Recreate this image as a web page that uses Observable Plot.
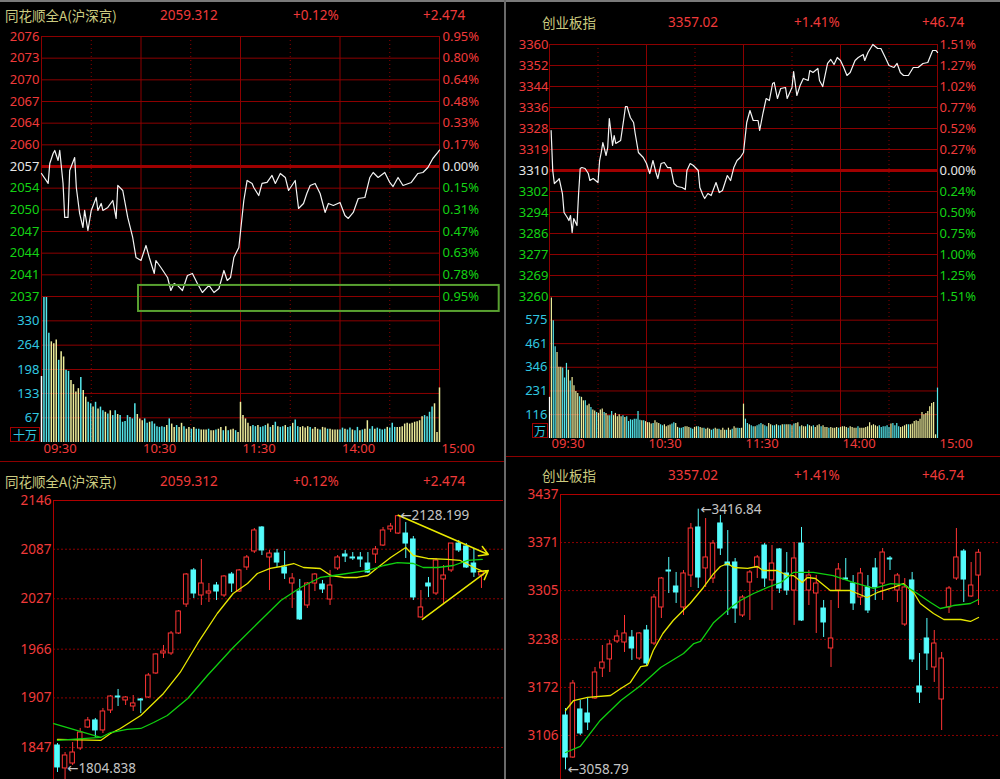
<!DOCTYPE html>
<html><head><meta charset="utf-8">
<script src="https://cdn.jsdelivr.net/npm/d3@7"></script>
<script src="https://cdn.jsdelivr.net/npm/@observablehq/plot@0.6"></script>
<style>
html,body{margin:0;padding:0;background:#000;}
#root{position:relative;width:1000px;height:779px;background:#000;overflow:hidden;font-family:"Noto Sans","DejaVu Sans",sans-serif;}
.h{position:absolute;height:18px;line-height:18px;font-size:13.5px;white-space:nowrap;transform:translateY(-50%);}
.nm{font-family:"Noto Sans CJK SC","Noto Sans",sans-serif;color:#cccc80;}
.rd{color:#f03a3a;}
.unit{position:absolute;border:1px solid #a00000;color:#30c8e0;font-family:"Noto Sans CJK SC",sans-serif;font-size:12px;line-height:13px;text-align:center;box-sizing:border-box;}
</style></head>
<body><div id="root"></div>
<script>
// ---------- header texts ----------
const headerNames = ["同花顺全A(沪深京)", "创业板指", "同花顺全A(沪深京)", "创业板指"];
const headerLast = ["2059.312", "3357.02", "2059.312", "3357.02"];
const headerPct = ["+0.12%", "+1.41%", "+0.12%", "+1.41%"];
const headerChg = ["+2.474", "+46.74", "+2.474", "+46.74"];

// ---------- intraday axes ----------
const timeTicks = [0, 60, 120, 180, 240];
const timeLabels = ["09:30", "10:30", "11:30", "14:00", "15:00"];
const timeDots = [30, 90, 150, 210];

const allAPrevClose = 2056.838, allAPctMax = 0.95;
const allAPriceLabels = ["2076","2073","2070","2067","2064","2060","2057","2054","2050","2047","2044","2041","2037"];
const allAPctLabels = ["0.95%","0.80%","0.64%","0.48%","0.33%","0.17%","0.00%","0.15%","0.31%","0.47%","0.63%","0.78%","0.95%"];
const allAVolTicks = [330, 264, 198, 133, 67];
const allAVolMax = 396;

const cybPrevClose = 3310.28, cybPctMax = 1.51;
const cybPriceLabels = ["3360","3352","3344","3336","3328","3319","3310","3302","3294","3286","3277","3269","3260"];
const cybPctLabels = ["1.51%","1.27%","1.02%","0.77%","0.52%","0.27%","0.00%","0.24%","0.50%","0.75%","1.00%","1.25%","1.51%"];
const cybVolTicks = [575, 461, 346, 231, 116];
const cybVolMax = 690;

// ---------- intraday price series ----------
const allAMin = [0,4,5,7,8,10,11,13,14,16,17,20,21,23,25,26,28,30,33,34,36,37,40,43,45,46,49,52,55,57,60,63,65,68,69,72,76,78,80,82,85,88,91,94,97,101,104,107,110,112,114,116,119,122,124,127,128,131,133,136,139,141,144,147,149,153,155,158,160,162,165,168,171,173,176,180,183,185,188,191,195,198,200,203,207,210,212,215,218,223,227,230,233,236,239,240];
const allAPrice = [2055.79,2054.29,2057.29,2058.79,2059.25,2057.74,2059.25,2054.29,2049.18,2049.18,2056.24,2058.19,2053.68,2049.78,2047.67,2050.23,2047.22,2050.23,2052.18,2050.23,2051.28,2050.23,2050.68,2051.73,2049.03,2053.99,2053.23,2049.18,2046.17,2043.16,2042.71,2044.97,2043.16,2040.76,2042.71,2041.66,2040.16,2038.2,2039.26,2038.96,2038.2,2040.46,2040.76,2039.26,2037.9,2038.96,2037.9,2038.5,2041.21,2039.71,2040.16,2043.16,2044.67,2051.73,2054.74,2054.29,2053.68,2052.48,2054.29,2054.44,2055.49,2054.29,2055.79,2055.19,2053.23,2054.74,2050.53,2051.28,2052.78,2053.99,2054.29,2052.78,2049.93,2051.28,2050.98,2051.43,2049.48,2049.03,2049.93,2052.03,2052.18,2055.19,2055.94,2055.19,2055.94,2054.44,2053.83,2055.19,2053.99,2054.44,2055.79,2055.94,2056.69,2058.04,2058.95,2059.31];

const cybMin = [1,2,3,5,6,8,9,11,12,13,14,15,17,18,19,20,22,24,25,27,30,31,32,33,35,36,37,39,40,41,44,46,47,48,50,52,53,55,58,59,60,61,62,64,66,67,69,71,73,75,77,79,82,84,85,87,89,92,93,95,96,98,100,103,105,107,110,112,114,116,118,120,122,124,126,129,130,132,134,136,138,139,141,143,146,147,150,151,153,155,157,160,161,163,166,167,169,172,174,176,178,180,182,184,186,189,191,194,195,197,200,203,205,208,210,213,215,217,219,222,225,228,231,234,237,239,240];
const cybPrice = [3326.15,3310.27,3305.11,3306.31,3307.1,3301.15,3293.61,3291.62,3290.43,3292.42,3285.67,3291.23,3288.45,3301.15,3311.07,3311.46,3311.07,3309.08,3306.31,3307.1,3305.51,3314.24,3317.42,3321.38,3316.23,3319.4,3330.91,3320.19,3324.16,3320.99,3322.18,3330.91,3335.67,3335.67,3331.3,3329.32,3324.95,3317.42,3315.43,3314.24,3313.05,3311.07,3309.08,3314.24,3309.08,3307.1,3313.05,3313.45,3311.46,3311.46,3305.11,3303.92,3303.53,3302.73,3310.27,3313.05,3312.26,3310.27,3303.53,3300.35,3299.16,3301.15,3300.35,3305.51,3301.54,3302.34,3308.29,3306.31,3311.46,3314.24,3315.43,3317.42,3329.32,3334.08,3330.11,3330.11,3326.15,3332.89,3338.84,3338.05,3344.79,3345.19,3338.84,3342.81,3343.21,3338.84,3343.21,3349.56,3340.03,3344.0,3346.78,3345.99,3349.95,3349.16,3350.75,3345.99,3343.6,3352.73,3354.32,3352.33,3355.11,3353.92,3351.14,3347.97,3349.16,3353.92,3355.11,3356.3,3353.92,3357.1,3360.27,3358.68,3358.68,3354.71,3351.94,3351.14,3352.73,3349.16,3347.97,3347.97,3351.14,3351.14,3352.73,3353.13,3357.89,3357.89,3357.1];

// ---------- intraday volumes (morning / afternoon) ----------
const allAVolAM = [179,394,394,296,273,268,278,223,246,232,196,193,168,157,137,146,176,141,123,109,105,96,109,91,96,86,82,77,86,73,86,76,73,55,57,73,68,64,105,76,64,59,64,52,55,56,50,43,41,43,41,46,64,50,41,46,41,52,43,36,41,36,41,36,36,34,34,34,36,32,32,34,36,41,32,43,32,34,36,32,27];
const allAVolAMDir = "w"+"ccc"+"yyy"+"c"+"yy"+"cc"+"yyyy"+"c"+"yy"+"cc"+"y"+"c"+"y"+"cc"+"y"+"c"+"y"+"cc"+"y"+"ccccccc"+"yyy"+"cc"+"y"+"cccccc"+"y"+"c"+"yy"+"c"+"yy"+"c"+"yy"+"c"+"y"+"cc"+"yyy"+"c"+"yy"+"c"+"yy"+"c"+"y"+"c"+"yy"+"c"+"y";
const allAVolPM = [109,73,64,52,43,46,43,46,41,43,46,50,41,46,55,43,41,43,46,41,43,52,61,43,41,43,39,43,41,36,41,36,34,41,39,36,36,34,34,34,34,39,36,34,39,34,32,41,32,34,36,59,36,43,36,39,36,34,36,41,39,52,41,41,41,43,50,52,50,52,55,56,59,70,73,70,82,96,105,27,148];
const allAVolPMDir = "yyyyy"+"ccycccyc"+"ycyccyccyccy"+"yyycyyycyycyyyyc"+"cyccyccycyyccy"+"ccccyccc"+"yyyyyyyyyyy"+"cccc"+"yyy";

const cybVolAM = [200,683,572,446,418,346,346,342,294,365,332,280,297,256,228,219,203,200,183,183,159,167,151,138,134,126,122,138,143,126,122,111,111,131,111,122,106,116,106,111,102,106,82,91,89,94,94,131,89,86,86,82,77,77,70,73,86,77,73,67,62,67,57,62,65,70,77,73,54,50,50,54,57,57,54,50,45,54,57,57,54,50,50,45,50,45,40,45,50,45,45,40,50,40,40,50,40,45,57,50,50,49,50];
const cybVolAMDir = "wyccyyyccc"+"ycyyyycyyc"+"yycyycyyyc"+"yyccyyyyyc"+"yccccccccy"+"cyyyycyyyc"+"cyyyyccyyc"+"ccyyyccyyc"+"yycyyyccyy"+"cyyycyycyy"+"ccy";
const cybVolPM = [167,94,73,67,62,57,57,62,67,73,67,62,57,73,67,62,62,67,62,62,67,67,67,67,67,62,70,73,77,57,62,57,57,67,62,57,62,54,62,67,57,62,54,54,50,54,50,50,54,50,54,57,57,54,50,57,54,50,50,57,50,50,50,54,57,77,62,67,62,57,62,54,57,57,62,54,70,73,62,73,57,54,57,62,67,67,67,70,82,86,82,94,126,116,122,131,154,170,175,18,245];
const cybVolPMDir = "yccyccyccc"+"yccyyccycc"+"ycyycycyyc"+"yyycyycyyy"+"cyyycyyyyc"+"yyyycyyyyc"+"yyyyyyyyyy"+"ccccccyccc"+"cyyyycyyyy"+"yyyyyyyyyy"+"c";

// ---------- daily candles: 同花顺全A ----------
const allAOpen = [1849.4,1821.6,1827.6,1845.8,1871.2,1879.7,1867.6,1891.8,1908.7,1903.9,1896.6,1905.1,1907.5,1936.6,1960.8,1960.8,1985.0,2020.1,2061.3,2031.0,2033.4,2043.1,2031.0,2056.4,2035.8,2064.9,2084.3,2113.3,2077.0,2081.8,2064.9,2045.5,2035.8,2018.9,2045.5,2044.3,2026.1,2063.7,2080.6,2077.0,2077.0,2069.7,2080.6,2091.5,2110.9,2106.0,2106.0,2098.8,2004.4,2045.5,2033.4,2050.4,2061.3,2093.9,2090.3,2069.7,2055.2];
const allAHigh = [1851.8,1840.9,1853.0,1870.0,1883.3,1882.1,1894.2,1909.9,1917.2,1908.7,1909.9,1906.3,1936.6,1960.8,1970.5,1987.4,2012.8,2057.6,2063.7,2074.6,2045.5,2046.7,2055.2,2058.8,2062.5,2079.4,2112.1,2114.5,2085.5,2086.7,2084.3,2057.6,2050.4,2046.7,2057.6,2049.2,2061.3,2079.4,2085.5,2083.0,2083.0,2083.0,2090.3,2113.3,2118.2,2128.199,2119.4,2102.4,2037.0,2052.8,2075.8,2067.3,2093.9,2097.6,2093.9,2087.9,2061.3];
const allALow = [1816.7,1804.838,1825.2,1843.3,1870.0,1859.1,1863.9,1888.1,1896.6,1897.8,1890.6,1888.1,1906.3,1935.4,1954.7,1958.4,1983.8,2016.5,2027.4,2018.9,2022.5,2024.9,2028.6,2034.6,2034.6,2061.3,2081.8,2079.4,2037.0,2064.9,2050.4,2015.3,2000.7,2015.3,2035.8,2033.4,2018.9,2061.3,2070.9,2073.4,2064.9,2057.6,2069.7,2090.3,2107.3,2104.8,2075.8,2024.9,2003.2,2028.6,2031.0,2021.3,2058.8,2083.0,2063.7,2052.8,2039.5];
const allAClose = [1822.8,1837.3,1840.9,1865.1,1879.7,1867.6,1890.6,1908.7,1907.5,1907.5,1900.3,1903.9,1934.1,1959.6,1963.2,1985.0,2011.6,2056.4,2033.4,2045.5,2035.8,2035.8,2054.0,2045.5,2061.3,2077.0,2109.7,2085.5,2081.8,2070.9,2057.6,2051.6,2002.0,2045.5,2056.4,2038.3,2043.1,2077.0,2078.2,2075.8,2074.6,2058.8,2086.7,2109.7,2114.5,2127.0,2093.9,2028.6,2016.5,2041.9,2073.4,2055.2,2093.9,2085.5,2064.9,2058.8,2059.3];
const allAMaYellow = [[0,1856.7],[5.7,1855.5],[7.0,1863.9],[8.3,1870.0],[11.0,1885.7],[14.0,1912.4],[16.2,1937.8],[18.5,1972.9],[21.1,2009.2],[23.2,2033.4],[25.1,2045.5],[26.4,2057.6],[28.1,2063.7],[29.5,2066.1],[31.2,2069.7],[32.5,2064.9],[34.7,2063.7],[36.1,2055.2],[37.8,2052.8],[39.6,2052.8],[41.0,2055.2],[42.3,2064.9],[44.0,2077.0],[46.0,2089.1],[47.0,2079.4],[48.9,2075.8],[51.5,2074.6],[53.2,2073.4],[55.0,2064.9],[55.9,2061.3]];
const allAMaGreen = [[0,1855.5],[5.7,1859.1],[7.0,1865.1],[9.2,1868.8],[11.0,1870.0],[12.7,1877.2],[14.5,1885.7],[17.2,1906.3],[19.8,1934.1],[23.2,1968.0],[26.4,1997.1],[29.5,2024.9],[32.1,2040.7],[34.7,2052.8],[36.5,2055.2],[41.0,2061.3],[43.1,2067.3],[44.9,2070.9],[47.0,2069.7],[48.3,2064.9],[50.2,2064.9],[52.3,2067.3],[54.2,2073.4],[56.1,2074.6]];
const allAArrows = [{x1:45, y1:2128.2, x2:56.9, y2:2080.6}, {x1:48.2, y1:2002.0, x2:56.9, y2:2061.3}];
const allAGreenNote = [[-0.5,1876.0],[5.7,1859.1]];
const allAHighMark = [{i:45, p:2128.199, t:"←2128.199"}];
const allALowMark = [{i:1, p:1804.838, t:"←1804.838"}];
const allAKTicks = [2146, 2087, 2027, 1966, 1907, 1847];

// ---------- daily candles: 创业板指 ----------
const cybOpen = [3133.4,3075.7,3141.7,3136.2,3156.8,3198.0,3210.4,3235.1,3233.7,3240.6,3211.7,3250.2,3232.3,3281.8,3332.6,3310.6,3281.8,3325.7,3391.7,3335.4,3321.6,3397.2,3343.6,3343.6,3270.8,3316.1,3336.7,3366.9,3318.9,3361.5,3328.5,3305.1,3369.7,3305.1,3301.0,3280.4,3225.5,3305.1,3321.6,3314.7,3295.5,3309.3,3335.4,3314.7,3349.1,3305.1,3258.4,3318.9,3173.3,3239.2,3199.4,3155.4,3281.8,3321.6,3358.7,3296.9,3325.7];
const cybHigh = [3143.0,3181.5,3154.0,3158.2,3199.4,3229.6,3236.5,3250.2,3270.8,3250.2,3247.4,3257.1,3299.6,3323.0,3350.5,3329.9,3332.6,3397.2,3416.84,3404.0,3373.8,3408.2,3387.5,3349.1,3298.3,3332.6,3353.2,3369.7,3366.9,3362.8,3357.3,3371.1,3391.7,3332.6,3325.7,3291.4,3291.4,3342.2,3349.1,3325.7,3335.4,3325.7,3349.1,3362.8,3351.8,3328.5,3321.6,3329.9,3218.6,3266.7,3250.2,3220.0,3310.6,3390.3,3361.5,3343.6,3361.5];
const cybLow = [3058.79,3074.4,3106.0,3112.8,3155.4,3185.6,3192.5,3232.3,3220.0,3209.0,3209.0,3202.1,3229.6,3266.7,3301.0,3287.3,3270.8,3309.3,3307.9,3309.3,3314.7,3353.2,3270.8,3259.8,3268.0,3263.9,3321.6,3309.3,3277.7,3301.0,3298.3,3257.1,3262.6,3284.5,3246.1,3240.6,3199.4,3280.4,3318.9,3277.7,3284.5,3273.5,3291.4,3291.4,3332.6,3288.6,3255.7,3206.2,3149.9,3195.2,3178.8,3112.8,3273.5,3318.9,3288.6,3295.5,3284.5];
const cybClose = [3075.7,3177.4,3108.7,3123.8,3192.5,3206.2,3231.0,3242.0,3246.1,3225.5,3246.1,3204.9,3295.5,3321.6,3331.2,3302.4,3328.5,3390.3,3323.0,3350.5,3369.7,3362.8,3339.5,3280.4,3295.5,3329.9,3350.5,3321.6,3342.2,3307.9,3305.1,3349.1,3263.9,3325.7,3314.7,3261.2,3239.2,3334.0,3320.2,3287.3,3328.5,3277.7,3309.3,3357.3,3347.7,3325.7,3309.3,3210.4,3165.0,3218.6,3232.3,3211.7,3307.9,3350.5,3320.2,3312.0,3357.0];
const cybMaYellow = [[0,3140.3],[1.1,3154.0],[3.0,3158.2],[6.1,3160.9],[7.5,3170.5],[8.8,3178.8],[10.2,3200.7],[11.1,3202.1],[11.9,3222.7],[13.2,3246.1],[14.6,3263.9],[16.9,3287.3],[18.7,3309.3],[20.1,3328.5],[21.0,3338.1],[22.0,3342.2],[22.8,3336.7],[24.7,3335.4],[26.0,3338.1],[26.8,3332.6],[28.7,3332.6],[30.1,3325.7],[30.9,3325.7],[32.1,3316.1],[32.8,3323.0],[33.9,3321.6],[35.9,3305.1],[38.6,3305.1],[40.9,3295.5],[42.3,3302.4],[44.5,3309.3],[45.8,3314.7],[47.2,3302.4],[48.1,3287.3],[49.9,3273.5],[51.3,3265.3],[53.6,3265.3],[54.9,3262.6],[56.0,3268.0]];
const cybMaGreen = [[0,3082.6],[2.0,3090.9],[4.7,3126.6],[7.5,3154.0],[10.2,3174.6],[12.9,3199.4],[16.0,3218.6],[17.4,3232.3],[18.3,3235.1],[20.1,3261.2],[22.4,3281.8],[23.7,3291.4],[25.5,3301.0],[27.4,3309.3],[29.2,3316.1],[30.9,3329.9],[33.6,3329.9],[36.3,3325.7],[39.1,3316.1],[41.8,3307.9],[44.1,3314.7],[45.8,3313.4],[47.7,3301.0],[49.5,3288.6],[50.8,3280.4],[52.6,3284.5],[54.9,3287.3],[56.0,3292.8]];
const cybHighMark = [{i:18, p:3416.84, t:"←3416.84"}];
const cybLowMark = [{i:0, p:3058.79, t:"←3058.79"}];
const cybKTicks = [3437, 3371, 3305, 3238, 3172, 3106];

// ---------- styling ----------
const RED = "#f03a3a", GREEN = "#14d214", WHITE = "#e6e6e6", CYAN_T = "#30c8e0", GRID = "#8c0000";
const CRED = "#ff3434", CCYAN = "#54fcfc", YEL = "#e8e800", MAG = "#10d010";
const BAR = {w: "#ffffff", c: "#55e8ec", y: "#eeee9c"};
const STYLE = {background: "transparent", color: "#ddd", fontFamily: "'Noto Sans','DejaVu Sans',sans-serif", fontSize: "13px", overflow: "visible"};

const root = document.getElementById("root");
function place(el, left, top) { el.style.position = "absolute"; el.style.left = left + "px"; el.style.top = top + "px"; root.appendChild(el); return el; }
function box(left, top, w, h, bg) { const d = document.createElement("div"); d.style.width = w + "px"; d.style.height = h + "px"; d.style.background = bg; return place(d, left, top); }

function pricePanel(o) {
  const top = o.prev * (1 + o.pctMax / 100), bot = o.prev * (1 - o.pctMax / 100);
  const grid = d3.range(13).map(k => ({v: o.prev + (top - o.prev) * (6 - k) / 6, a: o.priceLabels[k], b: o.pctLabels[k], c: k < 6 ? RED : (k === 6 ? WHITE : GREEN), z: k === 6}));
  const line = o.minutes.map((m, i) => ({m, p: o.prices[i]}));
  const marks = [
    Plot.ruleX(timeDots, {stroke: GRID, strokeDasharray: "1,3"}),
    Plot.ruleY(grid.filter(d => !d.z), {y: "v", stroke: GRID}),
    Plot.ruleX(timeTicks, {stroke: GRID}),
    Plot.ruleY([o.prev], {stroke: "#a00000", strokeWidth: 3}),
    Plot.line(line, {x: "m", y: "p", stroke: "#f4f4f4", strokeWidth: 1.2}),
    Plot.text(grid, {y: "v", text: "a", fill: "c", frameAnchor: "left", textAnchor: "end", dx: o.dxL, fontSize: 13}),
    Plot.text(grid, {y: "v", text: "b", fill: "c", frameAnchor: "right", textAnchor: "start", dx: o.dxR, fontSize: 13})
  ];
  if (o.note) marks.push(Plot.rect([o.note], {x1: "m1", x2: "m2", y1: "p1", y2: "p2", fill: "none", stroke: "#58a030", strokeWidth: 2}));
  return Plot.plot({width: o.w, height: o.h, marginLeft: o.mL, marginRight: o.mR, marginTop: o.mT, marginBottom: o.mB,
    x: {domain: [0, 240], axis: null}, y: {domain: [bot, top], axis: null}, color: {type: "identity"}, style: STYLE, marks});
}

function volPanel(o) {
  const bars = [];
  o.am.forEach((v, k) => bars.push({m: k * 120 / o.am.length, v, c: BAR[o.amDir[k] || "y"]}));
  o.pm.forEach((v, k) => bars.push({m: 120 + k * 120 / (o.pm.length - 1), v, c: BAR[o.pmDir[k] || "y"]}));
  return Plot.plot({width: o.w, height: o.h, marginLeft: o.mL, marginRight: o.mR, marginTop: o.mT, marginBottom: o.mB,
    x: {domain: [0, 240], axis: null}, y: {domain: [0, o.vmax], axis: null}, color: {type: "identity"}, style: STYLE,
    marks: [
      Plot.ruleX(timeDots, {stroke: GRID, strokeDasharray: "1,3"}),
      Plot.ruleY(o.ticks, {stroke: GRID}),
      Plot.ruleX(timeTicks, {stroke: GRID}),
      Plot.ruleX(bars, {x: "m", y1: 0, y2: "v", stroke: "c", strokeWidth: o.bw}),
      Plot.text(o.ticks, {y: d => d, text: d => String(d), frameAnchor: "left", textAnchor: "end", dx: o.dxL, fill: CYAN_T, fontSize: 13}),
      Plot.text(timeTicks, {x: d => d, text: (d, i) => timeLabels[i], frameAnchor: "bottom", textAnchor: "start", dx: 2, dy: o.dyT, fill: RED, fontSize: 13})
    ]});
}

function candlePanel(o) {
  const cs = o.open.map((op, i) => {
    const up = o.close[i] >= op;
    return {i, op, hi: o.high[i], lo: o.low[i], cl: o.close[i], col: up ? CRED : CCYAN, body: up ? "#000000" : CCYAN};
  });
  const marks = [
    Plot.ruleY(o.ticks.slice(1), {stroke: GRID, strokeDasharray: "2,2"}),
    Plot.ruleY([o.yDomain[1]], {stroke: "#b00000"}),
    Plot.ruleX([o.xDomain[0]], {stroke: "#b00000"}),
    Plot.ruleX(cs, {x: "i", y1: "lo", y2: "hi", stroke: "col"}),
    Plot.rect(cs, {x1: d => d.i - 0.3, x2: d => d.i + 0.3, y1: "op", y2: "cl", fill: "body", stroke: "col"}),
    Plot.line(o.maYellow, {stroke: YEL, strokeWidth: 1.3}),
    Plot.line(o.maGreen, {stroke: MAG, strokeWidth: 1.3})
  ];
  if (o.greenNote) marks.push(Plot.line(o.greenNote, {stroke: MAG, strokeWidth: 1.3}));
  if (o.arrows) marks.push(Plot.arrow(o.arrows, {x1: "x1", y1: "y1", x2: "x2", y2: "y2", stroke: YEL, strokeWidth: 1.5, headLength: 10}));
  marks.push(
    Plot.text(o.ticks, {y: d => d, text: d => String(d), frameAnchor: "left", textAnchor: "end", dx: -2, fill: RED, fontSize: 13.5}),
    Plot.text(o.highMark, {x: "i", y: "p", text: "t", textAnchor: "start", dx: 2, fill: "#c4c4c4", fontSize: 13.5}),
    Plot.text(o.lowMark, {x: "i", y: "p", text: "t", textAnchor: "start", dx: 2, dy: o.lowDy, fill: "#c4c4c4", fontSize: 13.5})
  );
  return Plot.plot({width: o.w, height: o.h, marginLeft: o.mL, marginRight: 0, marginTop: o.mT, marginBottom: 0,
    x: {domain: o.xDomain, axis: null}, y: {domain: o.yDomain, axis: null}, color: {type: "identity"}, style: STYLE, marks});
}

// ---------- frame lines ----------
box(0, 0, 1000, 2, "#7a7a7a");
box(504, 0, 2, 779, "#6a6a6a");
box(0, 461, 504, 1, "#8c0000");
box(506, 456, 494, 1, "#8c0000");

// ---------- top-left: 同花顺全A intraday ----------
place(volPanel({w: 503, h: 172, mL: 41, mR: 64, mT: 6, mB: 20, vmax: allAVolMax, ticks: allAVolTicks,
  am: allAVolAM, amDir: allAVolAMDir, pm: allAVolPM, pmDir: allAVolPMDir, bw: 1.5, dxL: -2, dyT: 10}), 0, 290);
place(pricePanel({w: 503, h: 290, mL: 41, mR: 64, mT: 10, mB: 20, prev: allAPrevClose, pctMax: allAPctMax,
  priceLabels: allAPriceLabels, pctLabels: allAPctLabels, minutes: allAMin, prices: allAPrice, dxL: -2, dxR: 3,
  note: {m1: 58.5, m2: 276, p1: 2035.05, p2: 2038.96}}), 0, 26);

// ---------- top-right: 创业板指 intraday ----------
place(volPanel({w: 495, h: 166, mL: 44, mR: 63, mT: 6, mB: 18, vmax: cybVolMax, ticks: cybVolTicks,
  am: cybVolAM, amDir: cybVolAMDir, pm: cybVolPM, pmDir: cybVolPMDir, bw: 1.2, dxL: -2, dyT: 9}), 505, 290);
place(pricePanel({w: 495, h: 272, mL: 44, mR: 63, mT: 10, mB: 10, prev: cybPrevClose, pctMax: cybPctMax,
  priceLabels: cybPriceLabels, pctLabels: cybPctLabels, minutes: cybMin, prices: cybPrice, dxL: -1, dxR: 2}), 505, 34);

// ---------- bottom-left: 同花顺全A daily ----------
place(candlePanel({w: 503, h: 300, mL: 53, mT: 10, xDomain: [-0.528, 58.91], yDomain: [1794.9, 2146],
  open: allAOpen, high: allAHigh, low: allALow, close: allAClose, maYellow: allAMaYellow, maGreen: allAMaGreen,
  arrows: allAArrows, greenNote: allAGreenNote, highMark: allAHighMark, lowMark: allALowMark, lowDy: -14, ticks: allAKTicks}), 0, 490);

// ---------- bottom-right: 创业板指 daily ----------
place(candlePanel({w: 495, h: 306, mL: 55, mT: 10, xDomain: [-0.678, 58.98], yDomain: [3030.4, 3437],
  open: cybOpen, high: cybHigh, low: cybLow, close: cybClose, maYellow: cybMaYellow, maGreen: cybMaGreen,
  highMark: cybHighMark, lowMark: cybLowMark, lowDy: 0, ticks: cybKTicks}), 505, 484);

// ---------- unit boxes ----------
const u1 = document.createElement("div"); u1.className = "unit"; u1.textContent = "十万"; u1.style.width = "30px"; u1.style.height = "15px"; place(u1, 10, 427);
const u2 = document.createElement("div"); u2.className = "unit"; u2.textContent = "万"; u2.style.width = "16px"; u2.style.height = "15px"; place(u2, 532, 423);

// ---------- headers ----------
const headerLayout = [{cy: 15, xs: [5, 160, 293, 423]}, {cy: 22, xs: [542, 668, 794, 922]}, {cy: 481, xs: [5, 160, 293, 423]}, {cy: 475, xs: [542, 668, 794, 922]}];
headerLayout.forEach((L, k) => {
  [[headerNames[k], "h nm"], [headerLast[k], "h rd"], [headerPct[k], "h rd"], [headerChg[k], "h rd"]].forEach(([t, cls], j) => {
    const d = document.createElement("div"); d.className = cls; d.textContent = t; place(d, L.xs[j], L.cy);
  });
});
</script></body></html>
